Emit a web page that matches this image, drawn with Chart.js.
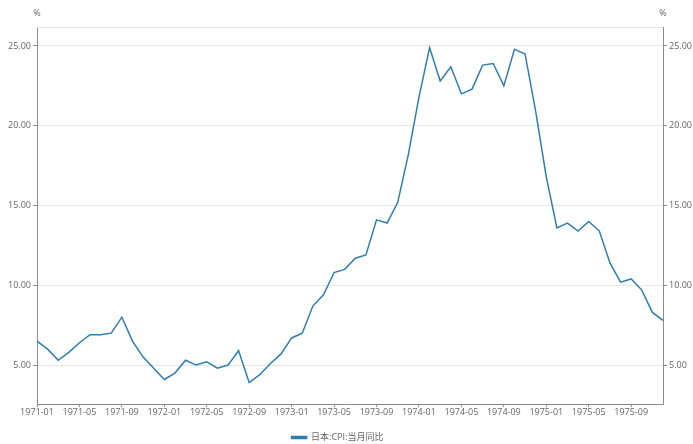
<!DOCTYPE html>
<html>
<head>
<meta charset="utf-8">
<script src="https://cdn.jsdelivr.net/npm/chart.js@4"></script>
<style>
  html, body { margin: 0; padding: 0; background: #fff; }
  #wrap { width: 693px; height: 444px; }
</style>
</head>
<body>
<div id="wrap"><canvas id="myChart" width="693" height="444"></canvas></div>
<script>
// monthly labels 1971-01 .. 1975-12
const years = ["1971", "1972", "1973", "1974", "1975"];
const months = ["01", "02", "03", "04", "05", "06", "07", "08", "09", "10", "11", "12"];
const labels = [];
years.forEach((y) => months.forEach((m) => labels.push(y + "-" + m)));

const seriesName = "日本:CPI:当月同比";
const cpiYoY = [
  // 1971
  6.5, 6.0, 5.3, 5.8, 6.4, 6.9, 6.9, 7.0, 8.0, 6.5, 5.5, 4.8,
  // 1972
  4.1, 4.5, 5.3, 5.0, 5.2, 4.8, 5.0, 5.9, 3.9, 4.4, 5.1, 5.7,
  // 1973
  6.7, 7.0, 8.7, 9.4, 10.8, 11.0, 11.7, 11.9, 14.1, 13.9, 15.2, 18.2,
  // 1974
  21.8, 24.9, 22.8, 23.7, 22.0, 22.3, 23.8, 23.9, 22.5, 24.8, 24.5, 20.9,
  // 1975
  16.8, 13.6, 13.9, 13.4, 14.0, 13.4, 11.4, 10.2, 10.4, 9.7, 8.3, 7.8
];
const yTicks = [5, 10, 15, 20, 25];

const lineColor = "#2e7db0";
const gridColor = "#e6e6e6";
const axisColor = "#8c8c8c";
const textColor = "#666";
const font = { family: "'Open Sans', 'Noto Sans CJK SC', sans-serif", size: 9 };

// "%" unit labels, top border line, small legend nudge
const extras = {
  id: "extras",
  afterLayout(chart) {
    // legend in the original sits a bit left of centre
    chart.legend.left -= 9;
    chart.legend.right -= 9;
  },
  beforeDatasetsDraw(chart) {
    const { ctx, chartArea } = chart;
    ctx.save();
    ctx.strokeStyle = gridColor;
    ctx.lineWidth = 1;
    ctx.beginPath();
    ctx.moveTo(chartArea.left, Math.round(chartArea.top) + 0.5);
    ctx.lineTo(chartArea.right, Math.round(chartArea.top) + 0.5);
    ctx.stroke();
    ctx.fillStyle = textColor;
    ctx.font = "9px " + font.family;
    ctx.textAlign = "center";
    ctx.textBaseline = "middle";
    ctx.fillText("%", chartArea.left, 13);
    ctx.fillText("%", chartArea.right, 13);
    ctx.restore();
  },
};

const ctx = document.getElementById("myChart").getContext("2d");
const myChart = new Chart(ctx, {
  type: "line",
  data: {
    labels: labels,
    datasets: [
      {
        label: seriesName,
        data: cpiYoY,
        borderColor: lineColor,
        backgroundColor: lineColor,
        borderWidth: 1.5,
        pointRadius: 0,
        tension: 0,
        yAxisID: "y",
      },
    ],
  },
  options: {
    responsive: false,
    animation: false,
    layout: { padding: { top: 27, left: 0, right: 0, bottom: -8 } },
    plugins: {
      legend: {
        position: "bottom",
        labels: {
          boxWidth: 15,
          boxHeight: 2,
          color: textColor,
          font: { family: font.family, size: 9 },
          padding: 3,
        },
      },
      tooltip: { enabled: false },
    },
    scales: {
      x: {
        type: "category",
        offset: false,
        grid: { drawOnChartArea: false, color: axisColor, tickLength: 3 },
        border: { color: axisColor },
        ticks: {
          autoSkip: false,
          maxRotation: 0,
          color: textColor,
          font: font,
          padding: 0,
          callback: function (val, i) {
            return i % 4 === 0 ? labels[i] : null;
          },
        },
        afterFit: (scale) => { scale.height = 26; },
      },
      y: {
        position: "left",
        min: 2.56,
        max: 26.19,
        afterBuildTicks: (axis) => { axis.ticks = yTicks.map((v) => ({ value: v })); },
        grid: { color: gridColor, tickColor: axisColor, tickLength: 4 },
        border: { color: axisColor },
        ticks: { color: textColor, font: font, padding: 2, callback: (v) => v.toFixed(2) },
        afterFit: (scale) => { scale.width = 37; },
      },
      y2: {
        position: "right",
        min: 2.56,
        max: 26.19,
        afterBuildTicks: (axis) => { axis.ticks = yTicks.map((v) => ({ value: v })); },
        grid: { drawOnChartArea: false, tickColor: axisColor, tickLength: 4 },
        border: { color: axisColor },
        ticks: { color: textColor, font: font, padding: 2, callback: (v) => v.toFixed(2) },
        afterFit: (scale) => { scale.width = 30; },
      },
    },
  },
  plugins: [extras],
});
</script>
</body>
</html>
